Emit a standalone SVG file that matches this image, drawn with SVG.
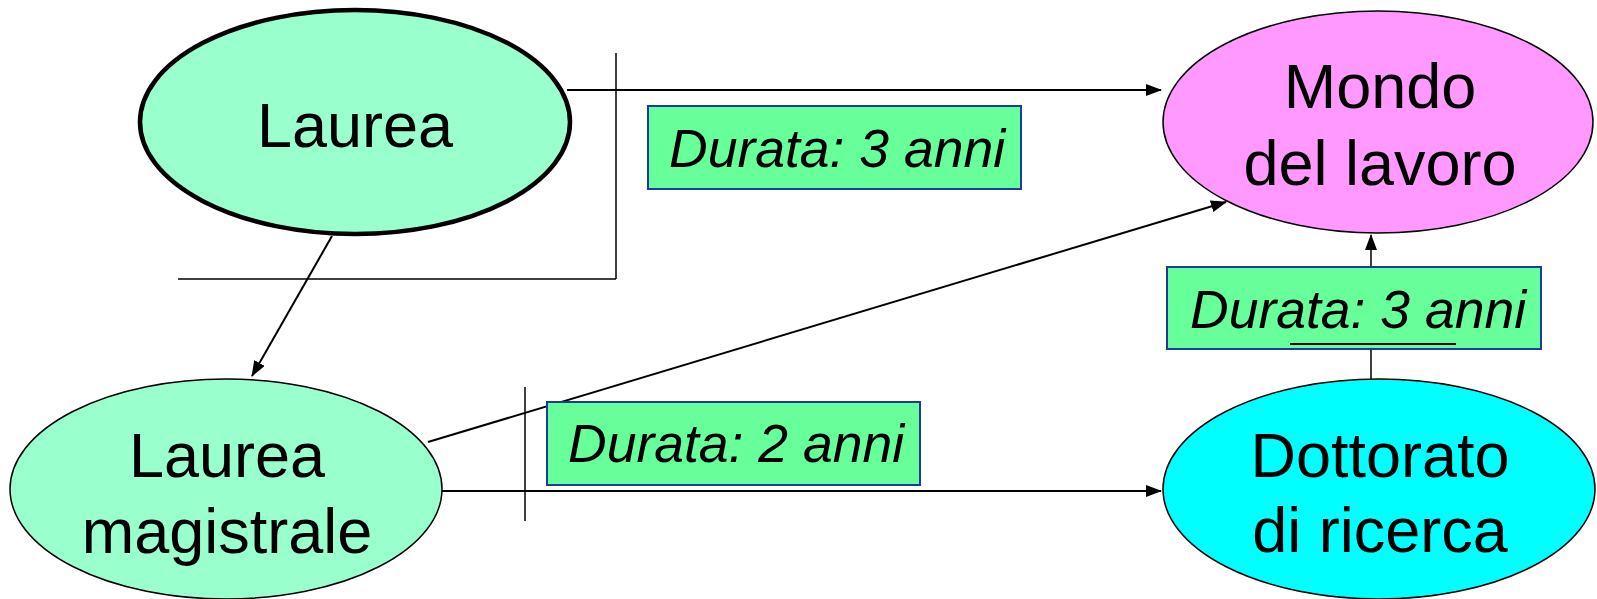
<svg xmlns="http://www.w3.org/2000/svg" width="1597" height="599" viewBox="0 0 1597 599">
<style>
.lbl{font-family:"Liberation Sans",Arial,sans-serif;font-size:63px;fill:#000;text-anchor:middle}
.dur{font-family:"Liberation Sans",Arial,sans-serif;font-size:53.5px;font-style:italic;fill:#000}
.box{fill:#66FF99;stroke:#1A3C9E;stroke-width:2}
.ln{stroke:#000;stroke-width:2;fill:none}
.tk{stroke:#000;stroke-width:1.5;fill:none}
</style>
<defs>
<marker id="ah" markerWidth="16" markerHeight="12" refX="15" refY="6" orient="auto" markerUnits="userSpaceOnUse">
<path d="M0,0 L16,6 L0,12 Z" fill="#000"/>
</marker>
</defs>
<g id="connectors">
<line class="tk" x1="616" y1="53" x2="616" y2="279"/>
<line class="tk" x1="178" y1="279" x2="616" y2="279"/>
<line class="ln" x1="567" y1="90" x2="1161" y2="90" marker-end="url(#ah)"/>
<line class="ln" x1="332" y1="236" x2="252" y2="376" marker-end="url(#ah)"/>
<line class="ln" x1="428" y1="442" x2="1226" y2="202" marker-end="url(#ah)"/>
<line class="tk" x1="525" y1="387" x2="525" y2="521"/>
<line class="ln" x1="442" y1="491" x2="1161" y2="491" marker-end="url(#ah)"/>
<line class="tk" x1="1371" y1="379" x2="1371" y2="349"/>
<line class="tk" x1="1371" y1="267" x2="1371" y2="235" marker-end="url(#ah)"/>
</g>
<g id="laurea">
<ellipse cx="355" cy="122" rx="215" ry="112" fill="#99FFCC" stroke="#000" stroke-width="4.5"/>
<text class="lbl" x="355" y="147">Laurea</text>
</g>
<g id="mondo">
<ellipse cx="1378" cy="122" rx="215" ry="111" fill="#FF99FF" stroke="#000" stroke-width="1.5"/>
<text class="lbl" x="1380" y="108">Mondo</text>
<text class="lbl" x="1380" y="185">del lavoro</text>
</g>
<g id="laurea-magistrale">
<ellipse cx="226" cy="489" rx="216" ry="110" fill="#99FFCC" stroke="#000" stroke-width="1.5"/>
<text class="lbl" x="227" y="477">Laurea</text>
<text class="lbl" x="227" y="553">magistrale</text>
</g>
<g id="dottorato">
<ellipse cx="1379" cy="489" rx="216" ry="110" fill="#00FFFF" stroke="#000" stroke-width="1.5"/>
<text class="lbl" x="1380" y="477">Dottorato</text>
<text class="lbl" x="1380" y="552">di ricerca</text>
</g>
<g id="durata1">
<rect class="box" x="648" y="106" width="373" height="83"/>
<text class="dur" x="669" y="167">Durata: 3 anni</text>
</g>
<g id="durata2">
<rect class="box" x="547" y="402" width="373" height="83"/>
<text class="dur" x="568" y="462">Durata: 2 anni</text>
</g>
<g id="durata3">
<rect class="box" x="1167" y="267" width="374" height="82"/>
<text class="dur" x="1190" y="328">Durata: 3 anni</text>
<line x1="1290" y1="344" x2="1456" y2="344" stroke="#000" stroke-width="2"/>
</g>
</svg>
